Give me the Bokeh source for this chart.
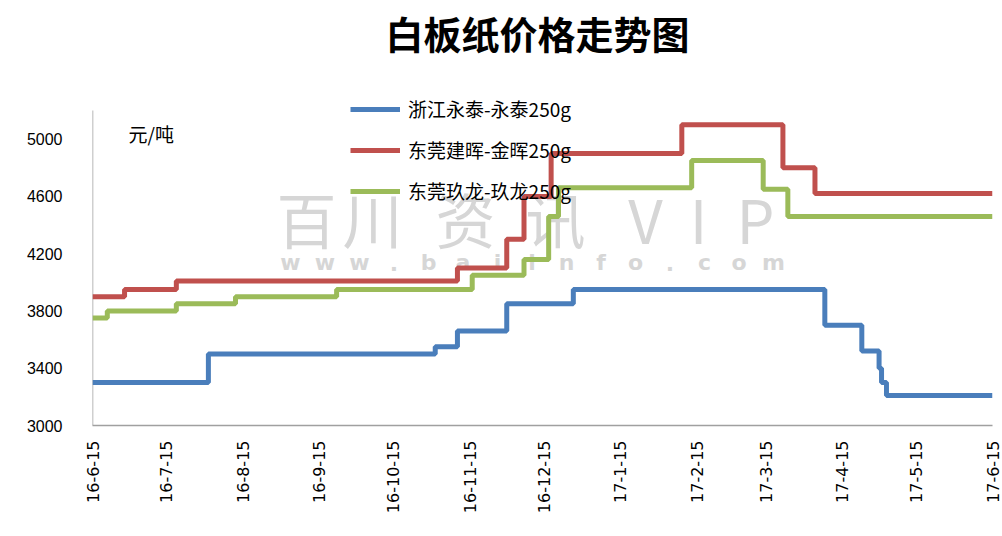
import math
from datetime import datetime
import pandas as pd
from bokeh.plotting import figure
from bokeh.models import Range1d, FixedTicker, Label
from bokeh.embed import file_html
from bokeh.resources import INLINE

# ---------------- data ----------------
tick_dates = ["2016-06-15", "2016-07-15", "2016-08-15", "2016-09-15", "2016-10-15",
              "2016-11-15", "2016-12-15", "2017-01-15", "2017-02-15", "2017-03-15",
              "2017-04-15", "2017-05-15", "2017-06-15"]
tick_labels = ["16-6-15", "16-7-15", "16-8-15", "16-9-15", "16-10-15", "16-11-15",
               "16-12-15", "17-1-15", "17-2-15", "17-3-15", "17-4-15", "17-5-15", "17-6-15"]
y_ticks = [3000, 3400, 3800, 4200, 4600, 5000]
y_min, y_axis_top = 3000, 5200

# 浙江永泰-永泰250g (price change dates and prices)
yongtai_dates = ["2016-06-15", "2016-08-01", "2016-11-01", "2016-11-10", "2016-11-30",
                 "2016-12-27", "2017-04-08", "2017-04-23", "2017-04-30", "2017-05-01",
                 "2017-05-03", "2017-06-15"]
yongtai_vals = [3300, 3500, 3550, 3660, 3850, 3950, 3700, 3520, 3400, 3300, 3210, 3210]

# 东莞建晖-金晖250g
jianhui_dates = ["2016-06-15", "2016-06-28", "2016-07-19", "2016-11-10", "2016-11-30",
                 "2016-12-07", "2016-12-18", "2017-02-09", "2017-03-22", "2017-04-04",
                 "2017-06-15"]
jianhui_vals = [3900, 3950, 4010, 4100, 4300, 4600, 4900, 5100, 4800, 4620, 4620]

# 东莞玖龙-玖龙250g
jiulong_dates = ["2016-06-15", "2016-06-21", "2016-07-19", "2016-08-12", "2016-09-22",
                 "2016-11-16", "2016-12-07", "2016-12-17", "2016-12-21", "2017-02-13",
                 "2017-03-14", "2017-03-24", "2017-06-15"]
jiulong_vals = [3750, 3800, 3850, 3900, 3950, 4050, 4160, 4460, 4660, 4850, 4650, 4460, 4460]

series = [
    ("浙江永泰-永泰250g", yongtai_dates, yongtai_vals, "#4a7ebb"),
    ("东莞建晖-金晖250g", jianhui_dates, jianhui_vals, "#c0504d"),
    ("东莞玖龙-玖龙250g", jiulong_dates, jiulong_vals, "#9bbb59"),
]

# ---------------- figure ----------------
W, H = 1002, 532
LEFT, RIGHT, BOTTOM_Y, AXIS_TOP_Y = 92, 992, 425, 110   # pixel layout
frame_h = BOTTOM_Y  # frame reaches the top of the canvas
y_max = y_min + (y_axis_top - y_min) * frame_h / (BOTTOM_Y - AXIS_TOP_Y)

x_start, x_end = datetime(2016, 6, 15), datetime(2017, 6, 15)
p = figure(width=W, height=H, x_axis_type="datetime",
           x_range=Range1d(x_start, x_end),
           y_range=Range1d(y_min, y_max),
           output_backend="svg", toolbar_location=None,
           min_border_left=LEFT, min_border_right=W - RIGHT,
           min_border_top=0, min_border_bottom=H - BOTTOM_Y)
p.outline_line_color = None
p.xgrid.visible = False
p.ygrid.visible = False
p.background_fill_color = "white"
p.border_fill_color = "white"

# watermark (underlay)
wm_chars = ["百", "川", "资", "讯", "V", "I", "P"]
wm_x = [214, 280, 373, 463, 553, 606, 663]
for ch, xx in zip(wm_chars, wm_x):
    p.add_layout(Label(x=xx, y=208, x_units="screen", y_units="screen", text=ch,
                       text_align="center", text_baseline="middle",
                       text_font="Noto Sans CJK SC", text_font_size="60px",
                       text_color="#d6d6d6", level="underlay"))
url = "www.baiinfo.com"
for i, ch in enumerate(url):
    p.add_layout(Label(x=198 + i * 34.5, y=163, x_units="screen", y_units="screen", text=ch,
                       text_align="center", text_baseline="middle",
                       text_font="DejaVu Sans", text_font_size="22px", text_font_style="bold",
                       text_color="#d6d6d6", level="underlay"))

# y axis line (only up to 5200, like the reference)
p.segment(x0=[x_start], y0=[y_min], x1=[x_start], y1=[y_axis_top],
          line_color="#a0a0a0", line_width=1.5)

for name, d, v, c in series:
    p.step(pd.to_datetime(d), v, mode="after", line_width=5, line_color=c,
           legend_label=name)

# axes
tick_ms = [pd.Timestamp(t).value / 1e6 for t in tick_dates]
p.xaxis.ticker = FixedTicker(ticks=tick_ms)
p.xaxis.major_label_overrides = {t: l for t, l in zip(tick_ms, tick_labels)}
p.xaxis.major_label_orientation = math.pi / 2
p.xaxis.major_label_text_font = "DejaVu Sans"
p.xaxis.major_label_text_font_size = "16px"
p.xaxis.major_label_text_color = "#000000"
p.xaxis.major_label_standoff = 9
p.xaxis.axis_line_color = "#a0a0a0"
p.xaxis.axis_line_width = 1.5
p.yaxis.ticker = FixedTicker(ticks=y_ticks)
p.yaxis.major_label_text_font = "Liberation Sans"
p.yaxis.major_label_text_font_size = "16px"
p.yaxis.major_label_text_color = "#000000"
p.yaxis.major_label_standoff = 24
p.yaxis.axis_line_color = None
for ax in (p.xaxis, p.yaxis):
    ax.major_tick_line_color = None
    ax.minor_tick_line_color = None

# legend
lg = p.legend[0]
lg.location = (258, 221)
lg.margin = 0
lg.padding = 0
lg.spacing = 14
lg.glyph_width = 50
lg.glyph_height = 20
lg.label_height = 20
lg.label_standoff = 8
lg.label_text_font = "Noto Sans CJK SC"
lg.label_text_font_size = "19px"
lg.label_text_color = "#000000"
lg.border_line_color = None
lg.background_fill_alpha = 0

# title & unit
p.add_layout(Label(x=445, y=393, x_units="screen", y_units="screen", text="白板纸价格走势图",
                   text_align="center", text_baseline="middle",
                   text_font="Noto Sans CJK SC", text_font_size="38px", text_font_style="bold",
                   text_color="#000000"))
p.add_layout(Label(x=36, y=292, x_units="screen", y_units="screen", text="元/吨",
                   text_align="left", text_baseline="middle",
                   text_font="Noto Sans CJK SC", text_font_size="19px", text_color="#000000"))

open("out.html", "w").write(file_html(p, INLINE))
